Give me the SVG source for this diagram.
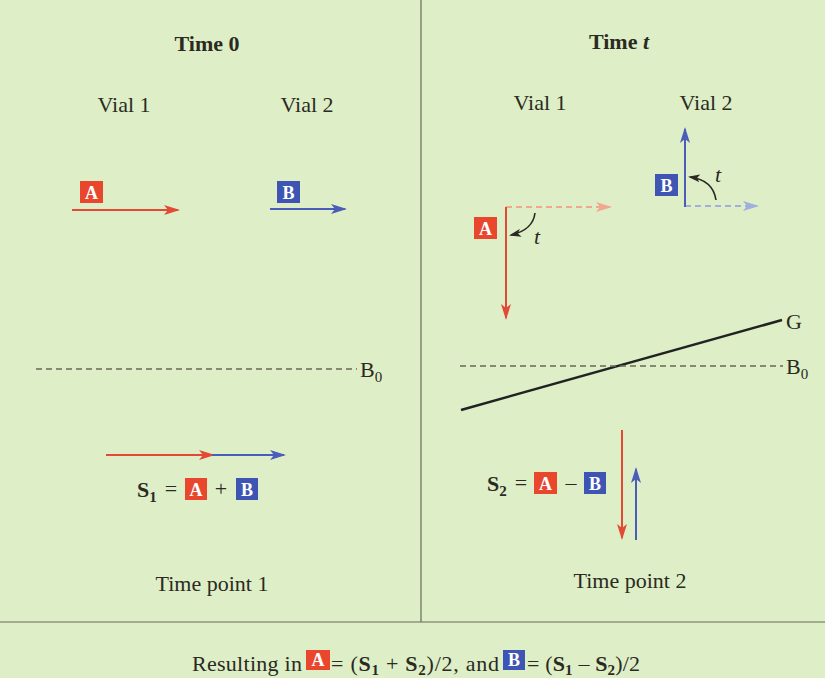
<svg xmlns="http://www.w3.org/2000/svg" width="825" height="678" viewBox="0 0 825 678">
<style>
text{font-family:"Liberation Serif","DejaVu Serif",serif;fill:#2a2a22;font-size:22px}
.b{font-weight:bold}
.box-a{fill:#e8472e}
.box-b{fill:#3f55b3}
.bl{fill:#fff;font-weight:bold;font-size:18px;text-anchor:middle}
.red{stroke:#e24a35;stroke-width:2;fill:none}
.blue{stroke:#4a5db8;stroke-width:2;fill:none}
.dash{stroke:#6a6a58;stroke-width:1.5;stroke-dasharray:6 4;fill:none}
.mid{text-anchor:middle}
</style>
<defs>
<marker id="ar" markerWidth="16" markerHeight="10" refX="14" refY="5" orient="auto" markerUnits="userSpaceOnUse"><path d="M0,0 L16,5 L0,10 L4,5 Z" fill="#e24a35"/></marker>
<marker id="ab" markerWidth="16" markerHeight="10" refX="14" refY="5" orient="auto" markerUnits="userSpaceOnUse"><path d="M0,0 L16,5 L0,10 L4,5 Z" fill="#4a5db8"/></marker>
<marker id="arl" markerWidth="16" markerHeight="10" refX="14" refY="5" orient="auto" markerUnits="userSpaceOnUse"><path d="M0,0 L16,5 L0,10 L4,5 Z" fill="#f0a890"/></marker>
<marker id="abl" markerWidth="16" markerHeight="10" refX="14" refY="5" orient="auto" markerUnits="userSpaceOnUse"><path d="M0,0 L16,5 L0,10 L4,5 Z" fill="#a0aee0"/></marker>
<marker id="ak" markerWidth="12" markerHeight="8" refX="10" refY="4" orient="auto" markerUnits="userSpaceOnUse"><path d="M0,0 L12,4 L0,8 L3,4 Z" fill="#2a2a22"/></marker>
</defs>
<rect width="825" height="678" fill="#deeec6"/>
<line x1="421" y1="0" x2="421" y2="622" stroke="#6a6a58" stroke-width="1.2"/>
<line x1="0" y1="622" x2="825" y2="622" stroke="#6a6a58" stroke-width="1.2"/>

<g id="left-panel">
<text x="207" y="51" class="b mid">Time 0</text>
<text x="124" y="112" class="mid">Vial 1</text>
<text x="307" y="112" class="mid">Vial 2</text>
</g>
<g id="vial1-t0">
<rect x="80" y="181" width="23" height="22" class="box-a"/><text x="91.5" y="198.5" class="bl">A</text>
<line x1="72" y1="210" x2="178" y2="210" class="red" marker-end="url(#ar)"/>
</g>
<g id="vial2-t0">
<rect x="277" y="181" width="23" height="22" class="box-b"/><text x="288.5" y="198.5" class="bl">B</text>
<line x1="270" y1="209" x2="345" y2="209" class="blue" marker-end="url(#ab)"/>
</g>
<g id="b0-left">
<line x1="36" y1="369" x2="357" y2="369" class="dash"/>
<text x="360" y="377">B<tspan font-size="15" dy="5">0</tspan></text>
</g>
<g id="s1">
<line x1="106" y1="455" x2="213" y2="455" class="red" marker-end="url(#ar)"/>
<line x1="212" y1="455" x2="284" y2="455" class="blue" marker-end="url(#ab)"/>
<text x="137" y="497" class="b">S<tspan font-size="15" dy="5">1</tspan></text>
<text x="171" y="496" class="mid">=</text>
<rect x="185" y="478" width="22" height="22" class="box-a"/><text x="196" y="495.5" class="bl">A</text>
<text x="221" y="496" class="mid">+</text>
<rect x="236" y="478" width="22" height="22" class="box-b"/><text x="247" y="495.5" class="bl">B</text>
<text x="212" y="591" class="mid">Time point 1</text>
</g>

<g id="right-panel">
<text x="619" y="49" class="b mid">Time <tspan font-style="italic">t</tspan></text>
<text x="540" y="110" class="mid">Vial 1</text>
<text x="706" y="110" class="mid">Vial 2</text>
</g>
<g id="vial1-tt">
<line x1="506" y1="207" x2="610" y2="207" stroke="#f0a890" stroke-width="2" stroke-dasharray="6 4" marker-end="url(#arl)"/>
<line x1="506" y1="207" x2="506" y2="318" class="red" marker-end="url(#ar)"/>
<rect x="474" y="217" width="23" height="22" class="box-a"/><text x="485.5" y="234.5" class="bl">A</text>
<path d="M535,213 Q533,230 511,235" stroke="#2a2a22" stroke-width="1.6" fill="none" marker-end="url(#ak)"/>
<text x="534" y="244" font-style="italic" font-size="19">t</text>
</g>
<g id="vial2-tt">
<line x1="685" y1="206" x2="757" y2="206" stroke="#a0aee0" stroke-width="2" stroke-dasharray="6 4" marker-end="url(#abl)"/>
<line x1="685" y1="207" x2="685" y2="129" class="blue" marker-end="url(#ab)"/>
<rect x="655" y="174" width="23" height="22" class="box-b"/><text x="666.5" y="191.5" class="bl">B</text>
<path d="M716,200 Q713,180 690,177" stroke="#2a2a22" stroke-width="1.6" fill="none" marker-end="url(#ak)"/>
<text x="715" y="182" font-style="italic" font-size="19">t</text>
</g>
<g id="g-line">
<line x1="461" y1="410" x2="782" y2="320" stroke="#222" stroke-width="2.5"/>
<text x="786" y="329">G</text>
</g>
<g id="b0-right">
<line x1="460" y1="366" x2="783" y2="366" class="dash"/>
<text x="786" y="374">B<tspan font-size="15" dy="5">0</tspan></text>
</g>
<g id="s2">
<line x1="622" y1="430" x2="622" y2="538" class="red" marker-end="url(#ar)"/>
<line x1="636" y1="540" x2="636" y2="469" class="blue" marker-end="url(#ab)"/>
<text x="487" y="491" class="b">S<tspan font-size="15" dy="5">2</tspan></text>
<text x="521" y="490" class="mid">=</text>
<rect x="534" y="472" width="23" height="22" class="box-a"/><text x="545.5" y="489.5" class="bl">A</text>
<text x="571" y="490" class="mid">–</text>
<rect x="584" y="472" width="22" height="22" class="box-b"/><text x="595" y="489.5" class="bl">B</text>
<text x="630" y="588" class="mid">Time point 2</text>
</g>

<g id="result">
<text x="192" y="671" textLength="110" lengthAdjust="spacing">Resulting in</text>
<rect x="306" y="650" width="24" height="20" class="box-a"/><text x="318" y="666" class="bl">A</text>
<text x="331" y="671" textLength="168" lengthAdjust="spacing">= (<tspan class="b">S</tspan><tspan class="b" font-size="15" dy="4">1</tspan><tspan dy="-4"> + </tspan><tspan class="b">S</tspan><tspan class="b" font-size="15" dy="4">2</tspan><tspan dy="-4">)/2, and</tspan></text>
<rect x="503" y="650" width="22" height="20" class="box-b"/><text x="514" y="666" class="bl">B</text>
<text x="527" y="671" textLength="113" lengthAdjust="spacing">= (<tspan class="b">S</tspan><tspan class="b" font-size="15" dy="4">1</tspan><tspan dy="-4"> – </tspan><tspan class="b">S</tspan><tspan class="b" font-size="15" dy="4">2</tspan><tspan dy="-4">)/2</tspan></text>
</g>
</svg>
